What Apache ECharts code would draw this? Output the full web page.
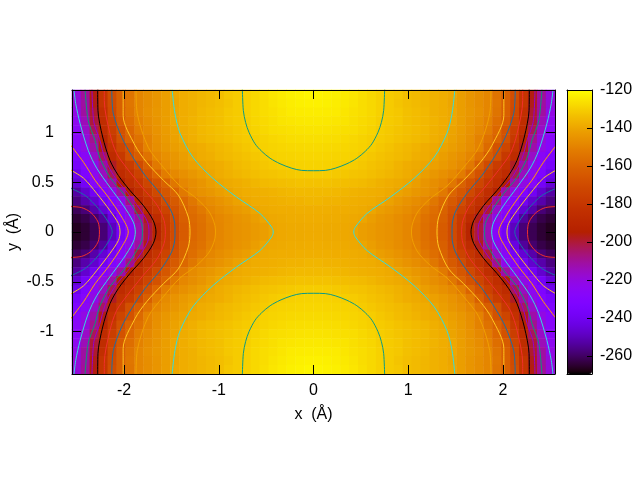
<!DOCTYPE html>
<html><head><meta charset="utf-8">
<style>html,body{margin:0;padding:0;background:#fff}#c{width:640px;height:480px}</style>
<script src="https://cdn.jsdelivr.net/npm/echarts@6/dist/echarts.min.js"></script>
</head><body><div id="c"></div>
<script>
// Upper-left quadrant of the energy map; the map is mirror-symmetric.
const row0=[-219,-210,-196,-181,-169,-161.5,-154.5,-149,-146.5,-144.5,-142,-139.5,-138,-137,-136,-135,-134,-132,-131,-129.5,-128,-126.5,-125,-124,-123,-122.5,-122];
const row1=[-219,-211,-197,-181,-170,-161.5,-154,-149,-146.5,-144.5,-142,-140,-138,-137,-136,-135,-134,-132.5,-131,-129.5,-128,-127,-125.5,-124.5,-123.5,-123,-122.7];
const row2=[-221,-211,-199,-184,-171,-162,-154.5,-149,-146,-144,-142,-139.5,-138,-137,-135.5,-134.5,-133.5,-132,-131,-129.5,-128,-127,-126,-125,-124,-123.7,-123.5];
const row3=[-224,-214,-200,-185.5,-173,-164,-156.5,-150.5,-147,-144.5,-142,-139.5,-138,-136.5,-135.5,-134.5,-133.5,-132,-131,-130,-128.5,-127.5,-126.5,-125.5,-125,-124.7,-124.5];
const row4=[-226,-216,-203,-187,-176,-167,-159,-152,-148,-145,-142.5,-140.5,-138.5,-137,-135.5,-134.5,-133.5,-132.5,-131.5,-130.5,-129,-128,-127,-126.5,-126,-125.7,-125.5];
const row5=[-227,-219,-209,-191,-179,-168,-161,-155,-150,-146,-143,-141,-139,-137.5,-136,-135,-134,-133,-132,-131,-130,-129,-128.2,-127.5,-127,-126.8,-126.6];
const row6=[-228,-221,-212,-197,-183,-173,-167,-158,-150,-146.5,-144,-142,-140.5,-139,-138,-136.5,-135.5,-134.5,-133,-132,-130.5,-129.5,-128.8,-128.3,-128,-127.8,-127.6];
const row7=[-233,-226,-216,-204,-187,-179,-168,-163,-155,-149,-146,-144,-142,-140,-138.5,-137.5,-136,-135,-134,-133,-132,-131,-129.5,-129,-128.8,-128.6,-128.5];
const row8=[-236,-230,-221,-211,-198,-183,-177,-170,-162,-153,-147.5,-145,-143,-141.5,-140,-139,-138,-136.5,-135,-134,-133,-132,-131,-130.3,-129.7,-129.3,-129.2];
const row9=[-242,-233,-224,-215,-203,-187,-182,-175,-167,-160,-152,-148,-146,-144,-142,-139.8,-138.5,-137,-136,-135,-134,-133,-132.5,-132,-131.5,-131,-130.8];
const row10=[-246,-238,-228,-221,-212,-195,-185,-180,-173,-167,-161,-153.5,-148.5,-146.5,-144.5,-142,-140,-139,-138,-137,-136,-135,-134.5,-134,-133.5,-133,-133];
const row11=[-253,-247,-239,-231,-221,-211,-193,-185,-178,-171,-165,-160,-153,-147.5,-145.5,-144,-142,-140.5,-139,-138,-137.5,-137,-136.5,-136,-135.5,-135,-135];
const row12=[-257,-252,-247,-239.5,-231,-222,-208,-190,-183,-177,-169,-164,-158.5,-153.5,-149,-147,-145,-143,-141,-139.5,-138.5,-138,-137.5,-137,-136.5,-136.5,-136];
const row13=[-261,-258,-252,-246,-238,-226,-216,-200,-188,-181,-174,-167,-161,-156.5,-153,-149,-147,-145,-143.5,-142,-140,-139,-138.5,-138,-138,-137.5,-137.5];
const row14=[-264.5,-262.5,-259,-254,-244,-232,-221,-211,-197,-186,-178,-169,-162,-158,-155,-151,-148.5,-147,-145,-144,-142,-140,-139.5,-139,-138.5,-138.5,-138];
const row15=[-266.5,-264.5,-261.5,-258,-249.5,-238,-227,-213,-200.5,-191.5,-179,-170,-163.5,-159,-156,-152,-149,-147,-145.5,-144.5,-143,-142,-139.8,-139.5,-139,-139,-138.8];
const rows=[row0,row1,row2,row3,row4,row5,row6,row7,row8,row9,row10,row11,row12,row13,row14,row15];

// Contour lines, upper-left quadrant, [x, y] in Å.
const level130=[[-.751,1.43],[-.741,1.22],[-.717,1.10],[-.681,1.0],[-.617,.885],[-.547,.81],[-.458,.74],[-.353,.685],[-.229,.64],[-.124,.618],[0,.615]];
const level140=[[-1.493,1.43],[-1.463,1.19],[-1.409,.99],[-1.274,.75],[-1.061,.537],[-.811,.35],[-.565,.186],[-.441,.048],[-.425,0]];
const level150=[[-1.874,1.43],[-1.861,1.19],[-1.745,.85],[-1.586,.65],[-1.41,.462],[-1.234,.336],[-1.093,.19],[-1.035,.02],[-1.035,0]];
const level160=[[-2.01,1.43],[-2.01,1.17],[-1.885,.87],[-1.762,.70],[-1.586,.52],[-1.427,.37],[-1.322,.15],[-1.304,0]];
const level170=[[-2.13,1.43],[-2.114,1.19],[-2.025,.95],[-1.921,.77],[-1.781,.57],[-1.622,.39],[-1.498,.2],[-1.463,.05],[-1.463,0]];
const level180=[[-2.209,1.43],[-2.209,1.32],[-2.15,.99],[-2.08,.79],[-1.97,.64],[-1.811,.45],[-1.652,.27],[-1.578,.115],[-1.564,0]];
const level190=[[-2.279,1.43],[-2.276,1.22],[-2.226,.953],[-2.149,.719],[-2.061,.568],[-1.938,.417],[-1.797,.266],[-1.692,.115],[-1.663,0]];
const level200=[[-2.339,1.43],[-2.319,1.1],[-2.259,.93],[-2.199,.73],[-2.105,.56],[-1.97,.40],[-1.841,.24],[-1.752,.1],[-1.737,0]];
const level210=[[-2.412,1.43],[-2.379,1.12],[-2.307,.92],[-2.254,.74],[-2.15,.55],[-2.008,.387],[-1.885,.216],[-1.814,.085],[-1.807,0]];
const level220=[[-2.529,1.43],[-2.511,1.29],[-2.465,1.09],[-2.379,.82],[-2.289,.64],[-2.15,.45],[-2.008,.266],[-1.903,.10],[-1.881,0]];
const level230=[[-2.58,.89],[-2.428,.70],[-2.307,.52],[-2.167,.35],[-2.025,.15],[-1.956,0]];
const level240=[[-2.58,.63],[-2.428,.54],[-2.289,.387],[-2.15,.216],[-2.06,.085],[-2.043,0]];
const level250=[[-2.58,.445],[-2.412,.367],[-2.272,.236],[-2.167,.10],[-2.125,0]];
const level260=[[-2.58,.255],[-2.45,.245],[-2.35,.195],[-2.275,.10],[-2.26,0]];
const contourLevels=[level130,level140,level150,level160,level170,level180,level190,level200,level210,level220,level230,level240,level250,level260];
const contourColors=['#0a9a85','#33dde0','#f0a000','#ffc820','#1a6fa8','#f0302c','#000000','#9400d3','#0a9a75','#33dde0','#ffa000','#ffc820','#1a6fa8','#f0302c'];

const xTicks=[-2,-1,0,1,2];
const yTicks=[-1,-0.5,0,0.5,1];
const cbTicks=[-260,-240,-220,-200,-180,-160,-140,-120];
const font='"Liberation Sans",Arial,sans-serif';

// Palette rgbformulae 7,5,15
function pal(t){const r=Math.sqrt(t),g=t*t*t,b=Math.max(0,Math.sin(2*Math.PI*t));
  return 'rgb('+Math.round(255*r)+','+Math.round(255*g)+','+Math.round(255*b)+')';}
const colors=[];for(let i=0;i<=128;i++)colors.push(pal(i/128));

// Heatmap cells: mirror the quadrant in x and y
const full=rows.map(r=>r.concat(r.slice().reverse()));
const allRows=full.concat(full.slice().reverse());
const nCols=allRows[0].length,nRows=allRows.length;
const cells=[];
allRows.forEach((r,j)=>r.forEach((v,i)=>cells.push([i,nRows-1-j,v])));
const xCats=Array.from({length:nCols},(_,i)=>i),yCats=Array.from({length:nRows},(_,i)=>i);

function contourData(pts,isCap){
  const out=[];
  const side=(sx)=>{const u=pts.map(p=>[sx*p[0],p[1]]);const d=pts.slice().reverse().slice(1).map(p=>[sx*p[0],-p[1]]);return u.concat(d);};
  if(isCap){
    [1,-1].forEach(sy=>{
      pts.forEach(p=>out.push([p[0],sy*p[1]]));
      pts.slice().reverse().slice(1).forEach(p=>out.push([-p[0],sy*p[1]]));
      out.push([null,null]);
    });
  }else{
    side(1).forEach(p=>out.push(p));out.push([null,null]);
    side(-1).forEach(p=>out.push(p));
  }
  return out;
}
const lineSeries=contourLevels.map((pts,k)=>({
  type:'line',xAxisIndex:0,yAxisIndex:0,data:contourData(pts,k===0),symbol:'none',smooth:0.3,
  connectNulls:false,silent:true,animation:false,z:5,lineStyle:{color:contourColors[k],width:1}
}));

const common={nameTextStyle:{fontFamily:font,fontSize:16,color:'#000'},z:10};
const lineBlack={show:true,onZero:false,lineStyle:{color:'#000',width:1}};
const option={
  animation:false,backgroundColor:'#fff',
  grid:[{left:72,top:90,width:483,height:284,outerBoundsMode:'none',containLabel:false},{left:567,top:90,width:25,height:284,outerBoundsMode:'none',containLabel:false}],
  visualMap:{type:'continuous',seriesIndex:0,dimension:2,min:-269.5,max:-120,inRange:{color:colors},
    left:567,top:90,itemWidth:25,itemHeight:284,padding:0,text:null,showLabel:false,calculable:false,hoverLink:false,realtime:false,z:1},
  xAxis:[
    {...common,type:'value',gridIndex:0,min:-2.55,max:2.55,position:'bottom',name:'x  (Å)',nameLocation:'middle',nameGap:33,nameMoveOverlap:false,
      axisLine:lineBlack,splitLine:{show:false},
      axisTick:{show:true,inside:true,length:9,lineStyle:{color:'#000'},customValues:xTicks},
      axisLabel:{color:'#000',fontFamily:font,fontSize:16,margin:9,customValues:xTicks,formatter:v=>String(v)}},
    {...common,type:'value',gridIndex:0,min:-2.55,max:2.55,position:'top',axisLine:lineBlack,splitLine:{show:false},
      axisTick:{show:true,inside:true,length:9,lineStyle:{color:'#000'},customValues:xTicks},axisLabel:{show:false}},
    {type:'category',gridIndex:0,data:xCats,show:false,z:0},
    {...common,type:'value',gridIndex:1,min:0,max:1,position:'bottom',axisLine:lineBlack,axisTick:{show:false},axisLabel:{show:false},splitLine:{show:false}},
    {...common,type:'value',gridIndex:1,min:0,max:1,position:'top',axisLine:lineBlack,axisTick:{show:false},axisLabel:{show:false},splitLine:{show:false}}
  ],
  yAxis:[
    {...common,type:'value',gridIndex:0,min:-1.425,max:1.425,position:'left',name:'y  (Å)',nameLocation:'middle',nameGap:50,nameMoveOverlap:false,
      axisLine:lineBlack,splitLine:{show:false},
      axisTick:{show:true,inside:true,length:9,lineStyle:{color:'#000'},customValues:yTicks},
      axisLabel:{color:'#000',fontFamily:font,fontSize:16,margin:18,customValues:yTicks,formatter:v=>String(v)}},
    {...common,type:'value',gridIndex:0,min:-1.425,max:1.425,position:'right',axisLine:lineBlack,splitLine:{show:false},
      axisTick:{show:true,inside:true,length:9,lineStyle:{color:'#000'},customValues:yTicks},axisLabel:{show:false}},
    {type:'category',gridIndex:0,data:yCats,show:false,z:0},
    {...common,type:'value',gridIndex:1,min:-269.5,max:-120,position:'left',axisLine:lineBlack,axisTick:{show:false},axisLabel:{show:false},splitLine:{show:false}},
    {...common,type:'value',gridIndex:1,min:-269.5,max:-120,position:'right',axisLine:lineBlack,splitLine:{show:false},
      axisTick:{show:true,inside:true,length:5,lineStyle:{color:'#000'},customValues:cbTicks},
      axisLabel:{color:'#000',fontFamily:font,fontSize:16,margin:8,customValues:cbTicks,formatter:v=>String(v)}}
  ],
  series:[{type:'heatmap',xAxisIndex:2,yAxisIndex:2,data:cells,silent:true,animation:false,z:2,progressive:0,itemStyle:{borderWidth:0}},...lineSeries]
};
const chart=echarts.init(document.getElementById('c'),null,{renderer:'canvas'});
chart.setOption(option);
</script></body></html>
